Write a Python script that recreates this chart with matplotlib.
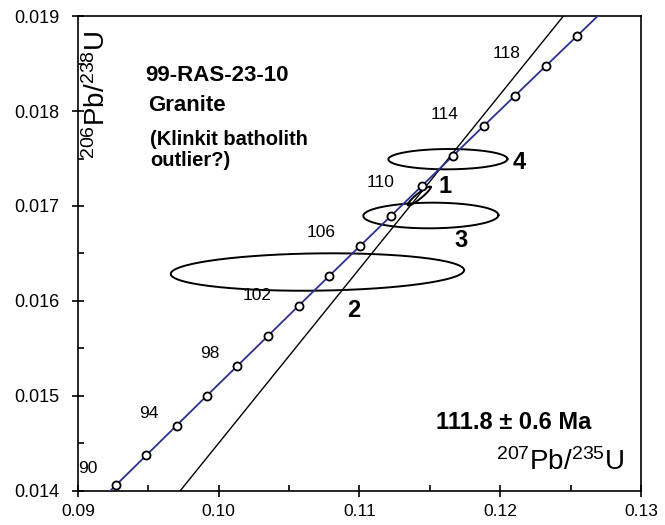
import numpy as np
import matplotlib
matplotlib.use("Agg")
import matplotlib.pyplot as plt

plt.rcParams["font.family"] = ["Liberation Sans", "DejaVu Sans"]
plt.rcParams["mathtext.fontset"] = "custom"
plt.rcParams["mathtext.rm"] = "Liberation Sans"
plt.rcParams["mathtext.it"] = "Liberation Sans:italic"
plt.rcParams["mathtext.bf"] = "Liberation Sans:bold"

# concordia age marks (Ma), 2 Ma steps
conc_ages = [90, 92, 94, 96, 98, 100, 102, 104, 106, 108, 110, 112, 114, 116, 118, 120]
conc_x = [0.09268, 0.09484, 0.09700, 0.09916, 0.10133, 0.10350, 0.10567, 0.10785,
          0.11004, 0.11223, 0.11442, 0.11662, 0.11882, 0.12102, 0.12323, 0.12545]
conc_y = [0.014059, 0.014374, 0.014689, 0.015004, 0.015318, 0.015633, 0.015949, 0.016264,
          0.016579, 0.016895, 0.017210, 0.017526, 0.017842, 0.018157, 0.018473, 0.018789]
# concordia curve runs past the first/last marks to the frame
curve_x = [0.09228] + conc_x + [0.12693]
curve_y = [0.0140] + conc_y + [0.0190]

# age labels shown on the curve
label_ages = ["90", "94", "98", "102", "106", "110", "114", "118"]
label_x = [0.09071, 0.09500, 0.09933, 0.10274, 0.10725, 0.11151, 0.11601, 0.12047]
label_y = [0.014232, 0.014818, 0.015450, 0.016053, 0.016719, 0.017245, 0.017958, 0.018607]

# discordia (regression) line
disc_x = [0.09725, 0.12449]
disc_y = [0.0140, 0.0190]

# error ellipses: centre, half widths, correlation
ell_names = ["1", "2", "3", "4"]
ell_cx = [0.11424, 0.10701, 0.11507, 0.11628]
ell_cy = [0.017105, 0.016305, 0.016900, 0.017493]
ell_sx = [0.00082, 0.01042, 0.00480, 0.00423]
ell_sy = [0.000100, 0.000197, 0.000135, 0.000107]
ell_rho = [0.93, 0.10, 0.03, 0.02]
ell_lab_x = [0.11608, 0.10957, 0.11720, 0.12134]
ell_lab_y = [0.017203, 0.015905, 0.016635, 0.017460]


def ellipse_pts(cx, cy, sx, sy, rho, n=200):
    t = np.linspace(0, 2 * np.pi, n)
    x = cx + sx * np.cos(t)
    y = cy + sy * (rho * np.cos(t) + np.sqrt(1 - rho ** 2) * np.sin(t))
    return x, y


fig = plt.figure(figsize=(6.65, 5.25), dpi=100)
ax = fig.add_axes([0.1173, 0.0648, 0.8466, 0.9047])

for i in range(len(ell_names)):
    ex, ey = ellipse_pts(ell_cx[i], ell_cy[i], ell_sx[i], ell_sy[i], ell_rho[i])
    ax.plot(ex, ey, color="black", lw=1.4, zorder=2)
    ax.text(ell_lab_x[i], ell_lab_y[i], ell_names[i], fontsize=17, fontweight="bold",
            ha="center", va="center")

ax.plot(disc_x, disc_y, color="black", lw=1.0, zorder=3)
ax.plot(curve_x, curve_y, color="#2b2f8f", lw=1.3, zorder=4)
ax.plot(conc_x, conc_y, "o", ms=5.8, mfc="white", mec="black", mew=1.3, zorder=5)

for lab, x, y in zip(label_ages, label_x, label_y):
    ax.text(x, y, lab, fontsize=12.5, ha="center", va="center")

ax.set_xlim(0.09, 0.13)
ax.set_ylim(0.014, 0.019)
ax.set_xticks([0.09, 0.10, 0.11, 0.12, 0.13])
ax.set_xticklabels(["0.09", "0.10", "0.11", "0.12", "0.13"])
ax.set_yticks([0.014, 0.015, 0.016, 0.017, 0.018, 0.019])
ax.set_yticklabels(["0.014", "0.015", "0.016", "0.017", "0.018", "0.019"])
ax.set_xticks([0.095, 0.105, 0.115, 0.125], minor=True)
ax.set_yticks([0.0145, 0.0155, 0.0165, 0.0175, 0.0185], minor=True)
ax.tick_params(which="major", direction="inout", length=9, width=1.2, labelsize=13, pad=9)
ax.tick_params(axis="x", which="major", labelsize=12.5, pad=5)
ax.tick_params(which="minor", direction="in", length=4, width=1.2)
for sp in ax.spines.values():
    sp.set_linewidth(1.2)

# axis titles sit inside the frame
ax.text(0.09139, 0.018168, r"$^{206}$Pb/$^{238}$U", rotation=90, fontsize=20,
        ha="center", va="center")
ax.text(0.12426, 0.01430, r"$^{207}$Pb/$^{235}$U", fontsize=20, ha="center", va="center")

ax.text(0.09476, 0.018379, "99-RAS-23-10", fontsize=16, fontweight="bold", va="center")
ax.text(0.09500, 0.018053, "Granite", fontsize=16, fontweight="bold", va="center")
ax.text(0.09512, 0.017695, "(Klinkit batholith", fontsize=14.5, fontweight="bold", va="center")
ax.text(0.09512, 0.017474, "outlier?)", fontsize=14.5, fontweight="bold", va="center")
ax.text(0.12092, 0.014716, "111.8 \u00b1 0.6 Ma", fontsize=17, fontweight="bold",
        ha="center", va="center")

fig.savefig("out.png", dpi=100)
